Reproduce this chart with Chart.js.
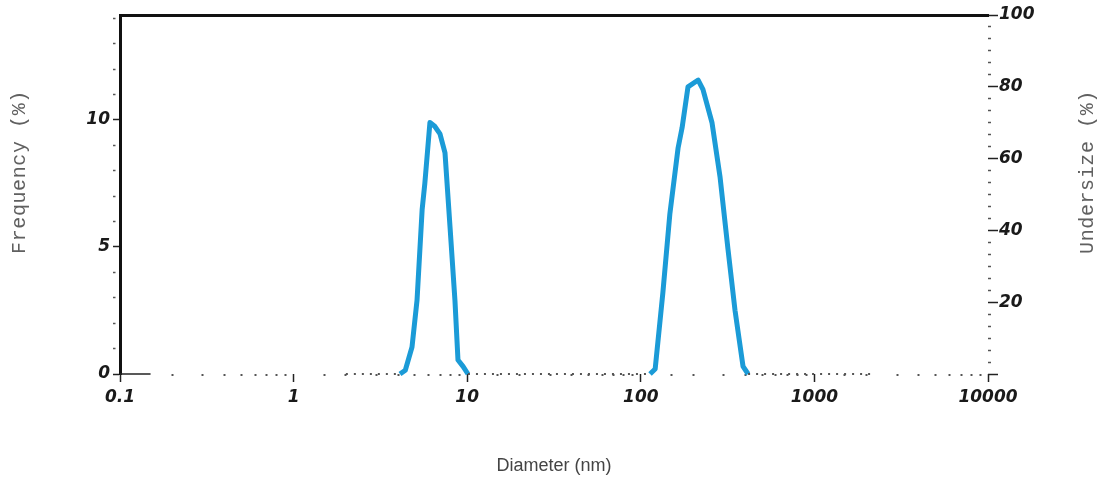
<!DOCTYPE html>
<html>
<head>
<meta charset="utf-8">
<title>Size distribution</title>
<script src="https://cdn.jsdelivr.net/npm/chart.js@4/dist/chart.umd.min.js"></script>
<style>
  html, body { margin: 0; padding: 0; background: #fff; }
  canvas { display: block; }
</style>
</head>
<body>
<canvas id="sizeChart" width="1102" height="483"></canvas>
<script>
// Diameter (nm) vs frequency (%)
const diameters = [2, 2.5, 3, 3.5, 4.1, 4.4, 4.81, 5.14, 5.5, 5.7, 6.1, 6.5, 6.97, 7.45, 7.96, 8.5, 8.85, 9.46, 10.1,
  12, 15, 20, 30, 40, 50, 60, 70, 80, 90, 100,
  113, 121, 134, 147, 164, 173, 187, 214, 228, 257, 286, 318, 349, 388, 415,
  500, 700, 1000, 1500, 2100];
const frequency = [0, 0, 0, 0, 0, 0.15, 1.06, 2.9, 6.46, 7.5, 9.9, 9.75, 9.45, 8.7, 5.8, 2.9, 0.55, 0.3, 0,
  0, 0, 0, 0, 0, 0, 0, 0, 0, 0, 0,
  0, 0.2, 3.2, 6.3, 8.9, 9.7, 11.3, 11.57, 11.2, 9.9, 7.76, 4.9, 2.5, 0.3, 0,
  0, 0, 0, 0, 0];

// short black start of the baseline
const baseX = [0.1, 0.15];
const baseY = [0, 0];

const xTickValues = [0.1, 1, 10, 100, 1000, 10000];
const xTickLabels = ['0.1', '1', '10', '100', '1000', '10000'];
const freqTicks = [0, 1, 2, 3, 4, 5, 6, 7, 8, 9, 10, 11, 12, 13, 14];
const freqLabels = { 0: '0', 5: '5', 10: '10' };
const underMajor = [0, 20, 40, 60, 80, 100];
const underLabels = ['', '20', '40', '60', '80', '100'];

const BLUE = '#1b9bd7';
const tickFont = { family: 'DejaVu Sans', size: 17, weight: 'bold', style: 'italic' };

function isZeroSeg(ctx) {
  return ctx.p0.parsed.y === 0 && ctx.p1.parsed.y === 0;
}

function isDecade(v) {
  const l = Math.log10(v);
  return Math.abs(l - Math.round(l)) < 1e-6;
}

// minor ticks on the right axis every 20/6
function underTicks() {
  const out = [];
  for (let i = 0; i <= 30; i++) out.push({ value: i * 10 / 3 });
  return out;
}

const titlesPlugin = {
  id: 'titles',
  afterDraw(chart) {
    const { ctx, chartArea } = chart;
    ctx.save();
    ctx.fillStyle = '#606060';
    ctx.font = '20px "Liberation Mono"';
    ctx.textAlign = 'center';
    ctx.textBaseline = 'middle';
    ctx.letterSpacing = '0.6px';

    ctx.save();
    ctx.translate(20, 172);
    ctx.rotate(-Math.PI / 2);
    ctx.fillText('Frequency (%)', 0, 0);
    ctx.restore();

    ctx.save();
    ctx.translate(1088, 172);
    ctx.rotate(-Math.PI / 2);
    ctx.fillText('Undersize (%)', 0, 0);
    ctx.restore();

    ctx.letterSpacing = '0px';
    ctx.fillStyle = '#444';
    ctx.font = '18px "Liberation Sans"';
    ctx.fillText('Diameter (nm)', (chartArea.left + chartArea.right) / 2, 466);
    ctx.restore();
  }
};

const ctx = document.getElementById('sizeChart').getContext('2d');
new Chart(ctx, {
  type: 'line',
  data: {
    datasets: [{
      label: 'Frequency',
      data: diameters.map((d, i) => ({ x: d, y: frequency[i] })),
      borderColor: BLUE,
      borderWidth: 5,
      borderJoinStyle: 'round',
      pointRadius: 0,
      tension: 0,
      clip: 6,
      segment: {
        borderColor: c => isZeroSeg(c) ? '#555' : undefined,
        borderDash: c => isZeroSeg(c) ? [2, 6] : undefined,
        borderWidth: c => isZeroSeg(c) ? 2 : undefined
      }
    }, {
      label: 'base',
      data: baseX.map((d, i) => ({ x: d, y: baseY[i] })),
      borderColor: '#222',
      borderWidth: 1.5,
      pointRadius: 0,
      clip: 6
    }]
  },
  options: {
    responsive: false,
    animation: false,
    devicePixelRatio: 1,
    layout: { padding: { top: 15, left: 0, right: 0, bottom: 0 } },
    plugins: {
      legend: { display: false },
      tooltip: { enabled: false }
    },
    scales: {
      x: {
        type: 'logarithmic',
        position: 'bottom',
        min: 0.1,
        max: 10000,
        afterFit: s => { s.height = 109; },
        border: { display: false },
        grid: {
          drawOnChartArea: false,
          tickLength: 8,
          tickColor: c => isDecade(c.tick.value) ? '#222' : '#555',
          tickWidth: c => isDecade(c.tick.value) ? 1.5 : 2,
          tickBorderDash: c => isDecade(c.tick.value) ? [] : [2, 40]
        },
        ticks: {
          autoSkip: false,
          maxRotation: 0,
          padding: 5,
          color: '#1a1a1a',
          font: tickFont,
          callback: v => {
            const i = xTickValues.findIndex(t => Math.abs(t - v) / t < 1e-6);
            return i >= 0 ? xTickLabels[i] : '';
          }
        }
      },
      xTop: {
        type: 'logarithmic',
        position: 'top',
        min: 0.1,
        max: 10000,
        afterFit: s => { s.height = 0; },
        border: { display: true, color: '#111', width: 3 },
        grid: { drawOnChartArea: false, drawTicks: false },
        ticks: { display: false }
      },
      y: {
        position: 'left',
        min: 0,
        max: 14.13,
        afterFit: s => { s.width = 120; },
        afterBuildTicks: s => { s.ticks = freqTicks.map(v => ({ value: v })); },
        border: { display: true, color: '#111', width: 3 },
        grid: {
          drawOnChartArea: false,
          tickLength: 7,
          tickColor: c => (c.tick.value % 5 === 0) ? '#222' : '#555',
          tickWidth: 1.5,
          tickBorderDash: c => (c.tick.value % 5 === 0) ? [] : [2.5, 20]
        },
        ticks: {
          autoSkip: false,
          padding: 3,
          color: '#1a1a1a',
          font: tickFont,
          callback: v => freqLabels[v] !== undefined ? freqLabels[v] : ''
        }
      },
      y2: {
        position: 'right',
        min: 0,
        max: 100,
        afterFit: s => { s.width = 114; },
        afterBuildTicks: s => { s.ticks = underTicks(); },
        border: { display: false },
        grid: {
          drawOnChartArea: false,
          tickLength: 10,
          tickColor: c => underMajor.some(m => Math.abs(m - c.tick.value) < 1e-6) ? '#222' : '#555',
          tickWidth: 1.5,
          tickBorderDash: c => underMajor.some(m => Math.abs(m - c.tick.value) < 1e-6) ? [] : [3, 20]
        },
        ticks: {
          autoSkip: false,
          padding: 1,
          color: '#1a1a1a',
          font: tickFont,
          callback: v => {
            const i = underMajor.findIndex(m => Math.abs(m - v) < 1e-6);
            return i >= 0 ? underLabels[i] : '';
          }
        }
      }
    }
  },
  plugins: [titlesPlugin]
});
</script>
</body>
</html>
